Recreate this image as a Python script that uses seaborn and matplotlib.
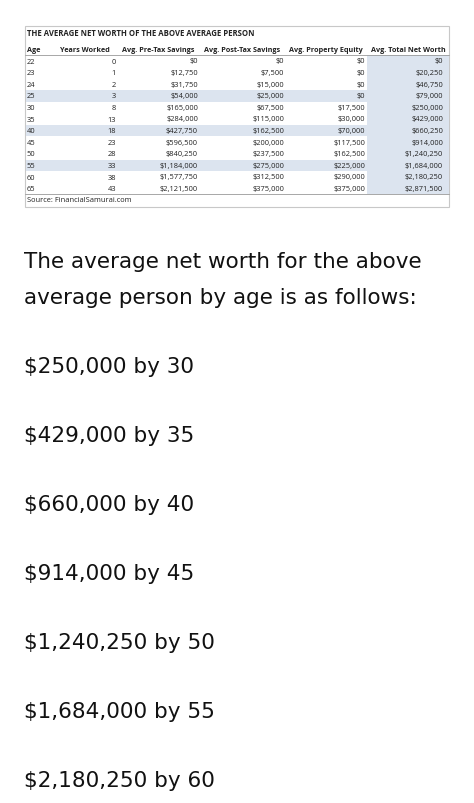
import matplotlib
matplotlib.use("Agg")
import matplotlib.pyplot as plt
import seaborn as sns
from matplotlib.patches import Rectangle

sns.set_style("white")
plt.rcParams['font.family'] = ['Open Sans', 'DejaVu Sans']

title = "THE AVERAGE NET WORTH OF THE ABOVE AVERAGE PERSON"
headers = ["Age", "Years Worked", "Avg. Pre-Tax Savings", "Avg. Post-Tax Savings",
           "Avg. Property Equity", "Avg. Total Net Worth"]
ages = [22, 23, 24, 25, 30, 35, 40, 45, 50, 55, 60, 65]
years_worked = [0, 1, 2, 3, 8, 13, 18, 23, 28, 33, 38, 43]
pre_tax = [0, 12750, 31750, 54000, 165000, 284000, 427750, 596500, 840250, 1184000, 1577750, 2121500]
post_tax = [0, 7500, 15000, 25000, 67500, 115000, 162500, 200000, 237500, 275000, 312500, 375000]
property_eq = [0, 0, 0, 0, 17500, 30000, 70000, 117500, 162500, 225000, 290000, 375000]
total_nw = [0, 20250, 46750, 79000, 250000, 429000, 660250, 914000, 1240250, 1684000, 2180250, 2871500]
highlight_ages = [25, 40, 55]
source = "Source: FinancialSamurai.com"
intro = ["The average net worth for the above", "average person by age is as follows:"]
milestones = [(250000, 30), (429000, 35), (660000, 40), (914000, 45),
              (1240250, 50), (1684000, 55), (2180250, 60)]

fig = plt.figure(figsize=(4.74, 8.04), dpi=100)
ax = fig.add_axes([0, 0, 1, 1])
ax.set_xlim(0, 474); ax.set_ylim(804, 0); ax.axis('off')

blue = "#dce4ef"
x0, x1 = 25, 449
ax.add_patch(Rectangle((x0, 27), x1 - x0, 181, fill=False, ec="#c8c8c8", lw=0.8))
row0, dy = 62, 11.6
ax.add_patch(Rectangle((367, row0 - dy / 2), x1 - 367, dy * len(ages), color=blue, lw=0))
for i, a in enumerate(ages):
    if a in highlight_ages:
        ax.add_patch(Rectangle((x0 + 1, row0 + i * dy - dy / 2), x1 - x0 - 1, dy, color=blue, lw=0))
ax.plot([x0, x1], [row0 - dy / 2, row0 - dy / 2], color="#999999", lw=0.6)
ax.plot([x0, x1], [row0 + dy * len(ages) - dy / 2] * 2, color="#999999", lw=0.6)

fs = 5.4
ax.text(27, 34, title, fontsize=5.6, fontweight='bold', va='center', ha='left', color="#222222")
hx = [(27, 'left'), (85, 'center'), (158, 'center'), (242, 'center'), (326, 'center'), (408, 'center')]
for (x, ha), h in zip(hx, headers):
    ax.text(x, 51, h, fontsize=5.2, fontweight='bold', va='center', ha=ha, color="#222222")

def m(v):
    return f"${v:,.0f}"

rx = [116, 198, 284, 365, 443]
for i in range(len(ages)):
    y = row0 + i * dy
    ax.text(27, y, str(ages[i]), fontsize=fs, va='center', ha='left', color="#222222")
    vals = [str(years_worked[i]), m(pre_tax[i]), m(post_tax[i]), m(property_eq[i]), m(total_nw[i])]
    for x, v in zip(rx, vals):
        ax.text(x, y, v, fontsize=fs, va='center', ha='right', color="#222222")
ax.text(27, 201, source, fontsize=fs, va='center', ha='left', color="#222222")

for j, line in enumerate(intro):
    ax.text(24, 262 + j * 36, line, fontsize=15.5, va='center', ha='left',
            family=['DejaVu Sans'], color="#111111")
for j, (v, a) in enumerate(milestones):
    ax.text(24, 367 + j * 69, f"{m(v)} by {a}", fontsize=15.5, va='center', ha='left',
            family=['DejaVu Sans'], color="#111111")

fig.savefig("out.png", dpi=100)
